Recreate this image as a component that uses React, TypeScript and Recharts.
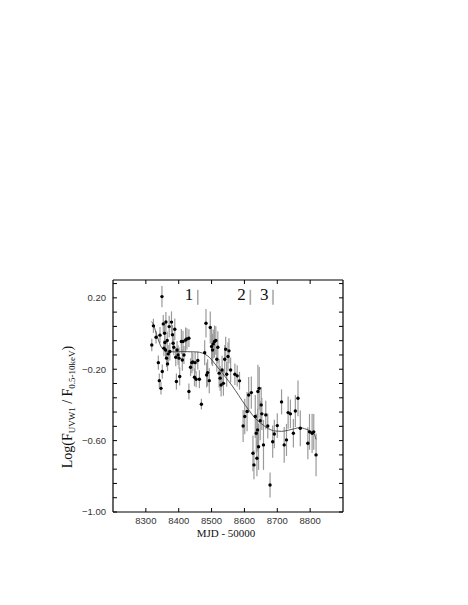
import React from 'react';
import { ComposedChart, Scatter, Line, XAxis, YAxis, ErrorBar } from 'recharts';

const mjd = [
  8318, 8323, 8331, 8338, 8341, 8343, 8346, 8349, 8350, 8353,
  8355, 8357, 8358, 8360, 8361, 8363, 8365, 8366, 8368, 8371,
  8373, 8378, 8381, 8383, 8385, 8388, 8391, 8393, 8395, 8398,
  8401, 8403, 8408, 8411, 8413, 8416, 8421, 8425, 8431, 8431,
  8436, 8440, 8443, 8448, 8450, 8453, 8458, 8463, 8469, 8479,
  8483, 8485, 8488, 8493, 8496, 8500, 8503, 8505, 8509, 8513,
  8516, 8519, 8523, 8526, 8529, 8532, 8536, 8540, 8543, 8546,
  8550, 8553, 8558, 8571, 8578, 8585, 8596, 8601, 8608, 8613,
  8621, 8626, 8629, 8633, 8636, 8638, 8640, 8641, 8643, 8645,
  8648, 8651, 8653, 8658, 8665, 8671, 8678, 8686, 8691, 8700,
  8713, 8721, 8728, 8733, 8740, 8749, 8755, 8763, 8770, 8793,
  8798, 8806, 8811, 8818,
];
const logRatio = [
  -0.064, 0.043, -0.021, -0.163, -0.264, -0.009, -0.307, 0.207, -0.213, 0.054,
  -0.082, 0.002, -0.05, -0.092, 0.065, -0.138, -0.039, -0.17, -0.114, 0.039,
  -0.101, 0.064, -0.007, -0.054, -0.077, 0.024, -0.133, -0.269, -0.092, -0.12,
  -0.138, -0.241, -0.045, -0.148, -0.045, -0.12, -0.036, -0.03, -0.026, -0.325,
  -0.189, -0.163, -0.159, -0.245, -0.163, -0.256, -0.151, -0.256, -0.396, -0.107,
  0.058, -0.232, -0.219, -0.264, 0.034, -0.073, -0.092, -0.058, -0.045, -0.039,
  -0.144, -0.077, -0.222, -0.25, -0.288, -0.204, -0.279, -0.144, -0.088, -0.228,
  -0.129, -0.097, -0.204, -0.228, -0.237, -0.265, -0.518, -0.465, -0.437, -0.344,
  -0.331, -0.671, -0.736, -0.465, -0.559, -0.699, -0.54, -0.325, -0.634, -0.307,
  -0.488, -0.4, -0.45, -0.624, -0.456, -0.518, -0.849, -0.606, -0.563, -0.516,
  -0.383, -0.624, -0.596, -0.443, -0.45, -0.559, -0.434, -0.363, -0.531, -0.615,
  -0.551, -0.559, -0.551, -0.68,
];
const logErr = [
  0.035, 0.04, 0.035, 0.04, 0.04, 0.045, 0.035, 0.06, 0.04, 0.05,
  0.045, 0.05, 0.04, 0.045, 0.055, 0.05, 0.05, 0.04, 0.05, 0.06,
  0.05, 0.06, 0.055, 0.05, 0.045, 0.06, 0.05, 0.045, 0.05, 0.055,
  0.06, 0.05, 0.07, 0.06, 0.06, 0.05, 0.07, 0.06, 0.05, 0.045,
  0.05, 0.06, 0.05, 0.05, 0.06, 0.045, 0.05, 0.05, 0.03, 0.07,
  0.08, 0.07, 0.075, 0.07, 0.09, 0.1, 0.09, 0.08, 0.09, 0.08,
  0.07, 0.09, 0.08, 0.07, 0.065, 0.08, 0.07, 0.08, 0.07, 0.07,
  0.08, 0.07, 0.07, 0.06, 0.06, 0.05, 0.09, 0.1, 0.11, 0.1,
  0.09, 0.1, 0.08, 0.12, 0.11, 0.1, 0.12, 0.15, 0.13, 0.12,
  0.11, 0.1, 0.09, 0.14, 0.08, 0.07, 0.07, 0.09, 0.08, 0.07,
  0.07, 0.1, 0.09, 0.09, 0.08, 0.08, 0.09, 0.1, 0.1, 0.09,
  0.1, 0.11, 0.1, 0.12,
];

const fitMjd = [
  8317, 8321, 8333, 8345, 8358, 8383, 8413, 8453, 8473, 8493,
  8513, 8533, 8553, 8573, 8593, 8613, 8633, 8653, 8673, 8693,
  8713, 8733, 8753, 8768, 8783, 8798, 8811, 8818,
];
const fitLog = [
  0.067, 0.058, -0.007, -0.069, -0.095, -0.103, -0.101, -0.103, -0.11, -0.133,
  -0.176, -0.222, -0.269, -0.32, -0.376, -0.428, -0.475, -0.507, -0.533, -0.546,
  -0.548, -0.542, -0.533, -0.527, -0.533, -0.544, -0.559, -0.593,
];

const epochMjd = [8458, 8618, 8687];
const epochLabels = ['1', '2', '3'];
const epochY = 0.203;

const xTicks = [8300, 8400, 8500, 8600, 8700, 8800];
const yTicks = [0.28, 0.2, 0.12, 0.04, -0.04, -0.12, -0.2, -0.28, -0.36, -0.44, -0.52, -0.6, -0.68, -0.76, -0.84, -0.92, -1.0];
const yLabelTicks = [0.2, -0.2, -0.6, -1.0];

const points = mjd.map((x, i) => ({ x, y: logRatio[i], err: logErr[i] }));
const fit = fitMjd.map((x, i) => ({ x, y: fitLog[i] }));
const epochs = epochMjd.map((x, i) => ({ x, y: epochY, label: epochLabels[i] }));

const SANS = '"Liberation Sans", Arial, Helvetica, sans-serif';
const SERIF = '"Liberation Serif", "Times New Roman", serif';

const fmtY = (v: number) => (v < 0 ? '\u2212' : '') + Math.abs(v).toFixed(2);
const isLabeled = (v: number) => yLabelTicks.some((t) => Math.abs(t - v) < 1e-6);

const LeftTick = (props: any) => {
  const { x, y, payload } = props;
  const v = payload.value;
  return (
    <g>
      <line x1={x} y1={y} x2={x + 4} y2={y} stroke="#000" strokeWidth={1} />
      {isLabeled(v) && (
        <text x={x - 7} y={y} dy={3.3} textAnchor="end" fontSize={9.5} fill="#333" fontFamily={SANS}>
          {fmtY(v)}
        </text>
      )}
    </g>
  );
};

const RightTick = (props: any) => {
  const { x, y } = props;
  return <line x1={x} y1={y} x2={x - 4} y2={y} stroke="#000" strokeWidth={1} />;
};

const BottomTick = (props: any) => {
  const { x, y, payload } = props;
  return (
    <g>
      <line x1={x} y1={y} x2={x} y2={y - 4} stroke="#000" strokeWidth={1} />
      <text x={x} y={y + 12} textAnchor="middle" fontSize={9.5} fill="#333" fontFamily={SANS}>
        {payload.value}
      </text>
    </g>
  );
};

const TopTick = (props: any) => {
  const { x, y } = props;
  return <line x1={x} y1={y} x2={x} y2={y + 4} stroke="#000" strokeWidth={1} />;
};

const Dot = (props: any) => {
  const { cx, cy } = props;
  return <circle cx={cx} cy={cy} r={1.7} fill="#000" />;
};

const EpochShape = (props: any) => {
  const { cx, cy, payload } = props;
  return (
    <g>
      <line x1={cx} y1={cy - 7.5} x2={cx} y2={cy + 7.5} stroke="#aaa" strokeWidth={1.6} />
      <text x={cx - 4.5} y={cy + 3} textAnchor="end" fontSize={17} fill="#111" fontFamily={SERIF}>
        {payload.label}
      </text>
    </g>
  );
};

const YTitle = (props: any) => {
  const vb = props.viewBox || {};
  const cx = vb.x + vb.width - 41;
  const cy = vb.y + vb.height / 2 + 11;
  return (
    <text
      x={cx}
      y={cy}
      transform={`rotate(-90, ${cx}, ${cy})`}
      textAnchor="middle"
      fontSize={14}
      fill="#111"
      fontFamily={SERIF}
    >
      <tspan>Log(F</tspan>
      <tspan fontSize={9} dy={3}>UVW1</tspan>
      <tspan dy={-3}> / F</tspan>
      <tspan fontSize={9} dy={3}>0.5-10keV</tspan>
      <tspan dy={-3}>)</tspan>
    </text>
  );
};

const XTitle = (props: any) => {
  const vb = props.viewBox || {};
  return (
    <text x={vb.x + vb.width / 2 - 2} y={vb.y + 25} textAnchor="middle" fontSize={11} fill="#111" fontFamily={SERIF}>
      MJD - 50000
    </text>
  );
};

export default function App() {
  return (
    <div style={{ width: 452, height: 589 }}>
      <ComposedChart width={452} height={589} margin={{ top: 271, right: 116, bottom: 84, left: 104 }}>
        <XAxis
          xAxisId="bottom"
          dataKey="x"
          type="number"
          domain={[8200, 8900]}
          ticks={xTicks}
          interval={0}
          allowDataOverflow
          height={1}
          tickSize={0}
          tickMargin={0}
          axisLine={{ stroke: '#000', strokeWidth: 1.2 }}
          tickLine={false}
          tick={BottomTick}
          label={{ content: XTitle }}
        />
        <XAxis
          xAxisId="top"
          orientation="top"
          dataKey="x"
          type="number"
          domain={[8200, 8900]}
          ticks={xTicks}
          interval={0}
          allowDataOverflow
          height={1}
          tickSize={0}
          tickMargin={0}
          axisLine={{ stroke: '#000', strokeWidth: 1.2 }}
          tickLine={false}
          tick={TopTick}
        />
        <YAxis
          yAxisId="left"
          dataKey="y"
          type="number"
          domain={[-1.0, 0.3]}
          ticks={yTicks}
          interval={0}
          allowDataOverflow
          width={1}
          tickSize={0}
          tickMargin={0}
          axisLine={{ stroke: '#000', strokeWidth: 1.2 }}
          tickLine={false}
          tick={LeftTick}
          label={{ content: YTitle }}
        />
        <YAxis
          yAxisId="right"
          orientation="right"
          dataKey="y"
          type="number"
          domain={[-1.0, 0.3]}
          ticks={yTicks}
          interval={0}
          allowDataOverflow
          width={1}
          tickSize={0}
          tickMargin={0}
          axisLine={{ stroke: '#000', strokeWidth: 1.2 }}
          tickLine={false}
          tick={RightTick}
        />
        <Scatter
          xAxisId="bottom"
          yAxisId="left"
          data={points}
          dataKey="y"
          shape={Dot}
          isAnimationActive={false}
        >
          <ErrorBar dataKey="err" direction="y" width={0} stroke="#9a9a9a" strokeWidth={1.2} />
        </Scatter>
        <Line
          xAxisId="bottom"
          yAxisId="left"
          data={fit}
          dataKey="y"
          type="monotone"
          stroke="#444"
          strokeWidth={0.9}
          dot={false}
          activeDot={false}
          isAnimationActive={false}
        />
        <Scatter
          xAxisId="top"
          yAxisId="right"
          data={epochs}
          dataKey="y"
          shape={EpochShape}
          isAnimationActive={false}
        />
      </ComposedChart>
    </div>
  );
}
